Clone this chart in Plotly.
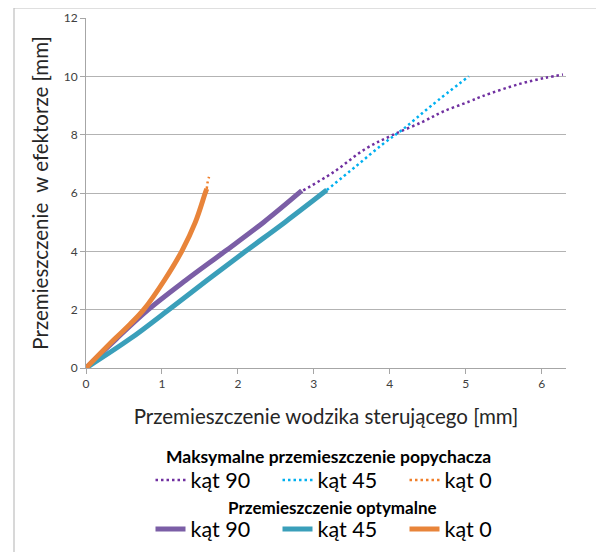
import plotly.graph_objects as go

# Optimal displacement (solid)
opt90_x = [0, 0.20, 0.40, 0.82, 1.31, 1.83, 2.34, 2.84]
opt90_y = [0, 0.50, 1.00, 2.00, 3.00, 4.00, 5.00, 6.08]
opt45_x = [0, 0.58, 1.09, 1.59, 2.10, 2.62, 3.17]
opt45_y = [0, 1.00, 2.00, 3.00, 4.00, 5.00, 6.10]
opt0_x = [0, 0.38, 0.58, 0.76, 1.03, 1.26, 1.44, 1.57, 1.59]
opt0_y = [0, 1.00, 1.50, 2.00, 3.00, 4.00, 5.00, 6.00, 6.14]

# Maximum displacement (dotted)
max90_x = [2.86, 3.25, 3.69, 4.04, 4.44, 4.70, 5.05, 5.23, 5.71, 6.05, 6.28]
max90_y = [6.09, 6.70, 7.53, 7.99, 8.45, 8.79, 9.14, 9.33, 9.74, 9.95, 10.06]
max45_x = [3.17, 3.56, 3.91, 4.18, 4.55, 5.04]
max45_y = [6.10, 6.93, 7.68, 8.20, 9.00, 10.00]
max0_x = [1.59, 1.60, 1.62]
max0_y = [6.14, 6.35, 6.55]

labels = ["kąt 90", "kąt 45", "kąt 0"]
title_max = "Maksymalne przemieszczenie popychacza"
title_opt = "Przemieszczenie optymalne"
x_title = "Przemieszczenie wodzika sterującego [mm]"
y_title = "Przemieszczenie  w efektorze [mm]"
x_ticks = [0, 1, 2, 3, 4, 5, 6]
y_ticks = [0, 2, 4, 6, 8, 10, 12]

FONT = "Lato, 'Open Sans', sans-serif"
W, H = 596, 544  # page body has an 8px margin

fig = go.Figure()

dot_colors = ["#7030A0", "#00B0F0", "#F07F2A"]
sol_colors = ["#7B5EA6", "#3A9FBA", "#E8843A"]

for xs, ys, lab, col in zip([max90_x, max45_x, max0_x], [max90_y, max45_y, max0_y], labels, dot_colors):
    fig.add_trace(go.Scatter(x=xs, y=ys, mode="lines", name=lab, line=dict(color=col, width=2.5, dash="2.5px,3px", shape="spline"), legend="legend"))

for xs, ys, lab, col in zip([opt90_x, opt45_x, opt0_x], [opt90_y, opt45_y, opt0_y], labels, sol_colors):
    fig.add_trace(go.Scatter(x=xs, y=ys, mode="lines", name=lab, line=dict(color=col, width=5, shape="spline"), legend="legend2"))

# outer chart frame
fig.add_shape(type="rect", xref="paper", yref="paper", x0=-0.15, x1=1.071, y0=-0.65, y1=1.0286,
              line=dict(color="#BFBFBF", width=1.2), fillcolor="rgba(0,0,0,0)", layer="below")

# legend group titles
fig.add_annotation(text="<b>" + title_max + "</b>", xref="paper", yref="paper", x=0.506, y=-0.254,
                   xanchor="center", yanchor="middle",
                   showarrow=False, font=dict(size=17.5, family=FONT, color="#000000"))
fig.add_annotation(text="<b>" + title_opt + "</b>", xref="paper", yref="paper", x=0.5125, y=-0.40,
                   xanchor="center", yanchor="middle",
                   showarrow=False, font=dict(size=17, family=FONT, color="#000000"))

leg_common = dict(orientation="h", xref="container", yref="container",
                  xanchor="center", yanchor="middle",
                  font=dict(size=21.5, family=FONT), entrywidth=82, entrywidthmode="pixels",
                  itemwidth=30, bgcolor="rgba(0,0,0,0)", tracegroupgap=0)

fig.update_layout(
    width=W, height=H,
    margin=dict(l=78, r=38, t=10, b=184),
    paper_bgcolor="white", plot_bgcolor="white",
    font=dict(family=FONT, color="#000000"),
    xaxis=dict(range=[0, 6.32], tickvals=x_ticks, showgrid=False, zeroline=False, automargin=False,
               showline=True, linecolor="#A6A6A6", linewidth=1,
               ticks="outside", ticklen=5, tickcolor="#A6A6A6",
               tickfont=dict(size=12, color="#404040", family=FONT),
               title=dict(text=x_title, font=dict(size=20.5, color="#262626", family=FONT), standoff=19)),
    yaxis=dict(range=[0, 12], tickvals=y_ticks, showgrid=True, gridcolor="#B3B3B3", gridwidth=1,
               zeroline=False, showline=True, linecolor="#A6A6A6", linewidth=1, automargin=False,
               ticks="outside", ticklen=5, tickcolor="#A6A6A6",
               tickfont=dict(size=12, color="#404040", family=FONT),
               title=dict(text=y_title, font=dict(size=20.5, color="#262626", family=FONT), standoff=9)),
    legend=dict(x=(341 - 8) / W, y=1 - (480 - 8) / H, **leg_common),
    legend2=dict(x=(341 - 8) / W, y=1 - (529 - 8) / H, **leg_common),
)

fig.write_html("out.html")
